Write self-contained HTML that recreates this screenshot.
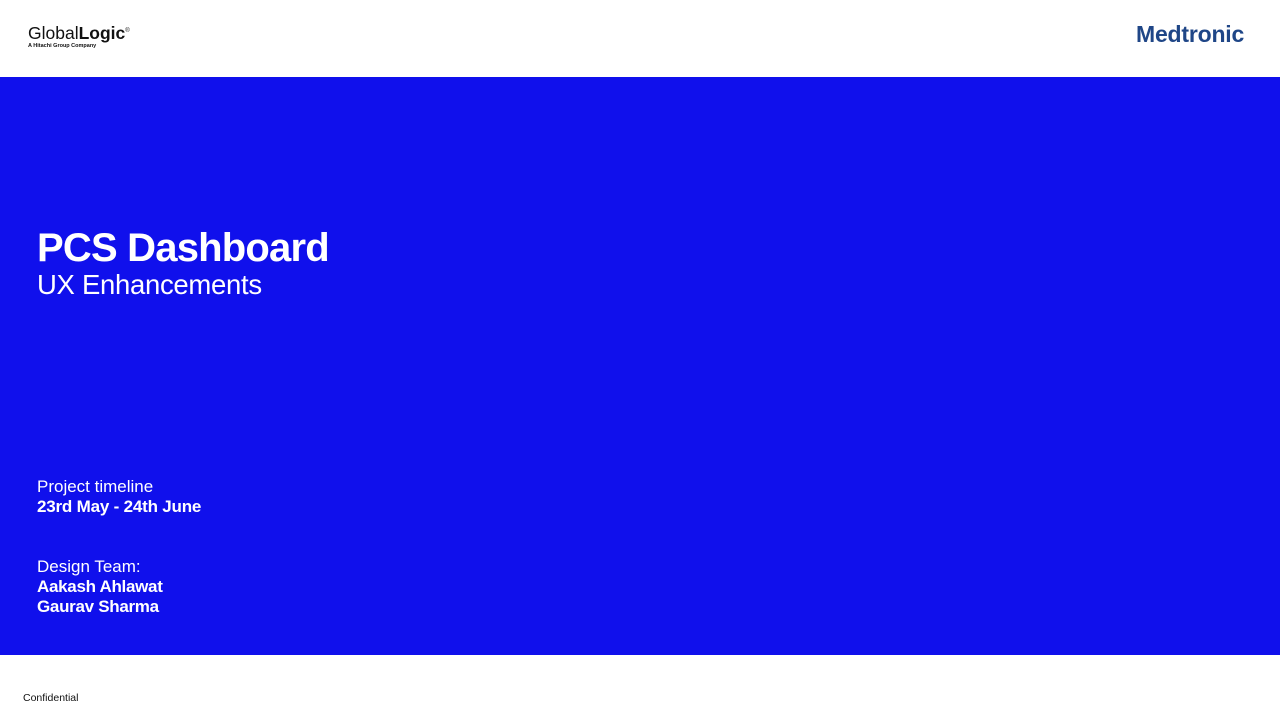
<!DOCTYPE html>
<html><head><meta charset="utf-8"><style>
body{margin:0;width:1280px;height:720px;position:relative;background:#fff;font-family:"Liberation Sans",sans-serif;overflow:hidden}
.abs{position:absolute;white-space:nowrap}
#band{position:absolute;left:0;top:77px;width:1280px;height:578px;background:#1010EC}
.w{color:#fff}
</style></head><body>
<div class="abs" style="left:28px;top:22px">
<div style="font-size:17.5px;color:#111;line-height:19px">Global<b>Logic</b><sup style="font-size:6px">®</sup></div>
<div style="font-size:5.5px;font-weight:bold;color:#111;line-height:7px">A Hitachi Group Company</div>
</div>
<div class="abs" style="left:1136px;top:21px;font-size:23px;font-weight:bold;color:#1f4687;letter-spacing:-0.2px">Medtronic</div>
<div id="band"></div>
<div class="abs w" style="left:37px;top:226px;font-size:40px;font-weight:bold;letter-spacing:-0.8px">PCS Dashboard</div>
<div class="abs w" style="left:37px;top:269px;font-size:27.5px;letter-spacing:-0.3px">UX Enhancements</div>
<div class="abs w" style="left:37px;top:477px;font-size:17px;line-height:20px">Project timeline<br><b style="letter-spacing:-0.2px">23rd May - 24th June</b></div>
<div class="abs w" style="left:37px;top:557px;font-size:17px;line-height:20px">Design Team:<br><b style="letter-spacing:-0.3px">Aakash Ahlawat</b><br><b style="letter-spacing:-0.3px">Gaurav Sharma</b></div>
<div class="abs" style="left:23px;top:692px;font-size:10.5px;color:#111">Confidential</div>
</body></html>
